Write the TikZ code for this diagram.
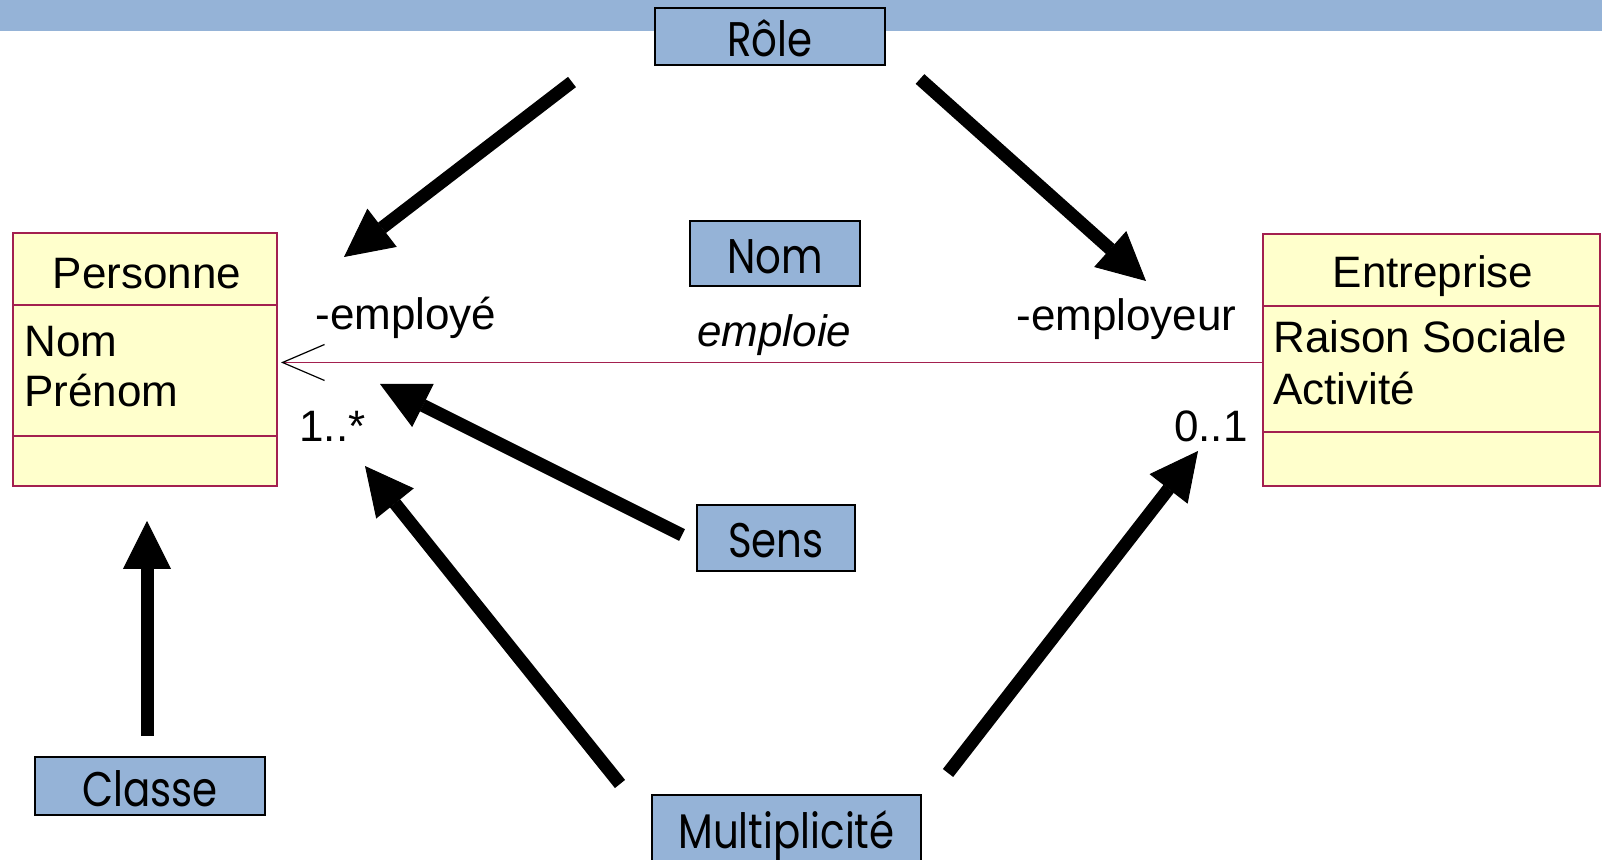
\documentclass[tikz,border=0pt]{standalone}
\usepackage{fontspec}
\setmainfont{Liberation Sans}
\newfontfamily\tagfont[FakeStretch=0.83]{Poppins}
\usetikzlibrary{arrows.meta}
\definecolor{barblue}{HTML}{95B3D7}
\definecolor{classfill}{HTML}{FFFFCC}
\definecolor{classline}{HTML}{A3204F}
\begin{document}
\begin{tikzpicture}[x=0.5pt,y=-0.5pt,
  tagbox/.style={draw=black, line width=1pt, fill=barblue, inner sep=0pt,
    text height=20pt, text depth=0pt,
    font=\tagfont\fontsize{24.3}{28}\selectfont},
  classbox/.style={draw=classline, line width=1pt, fill=classfill, inner sep=0pt},
  sepline/.style={draw=classline, line width=1pt},
  uml/.style={font=\fontsize{22}{26}\selectfont, inner sep=0pt},
  bigarrow/.style={line width=6.5pt,
    -{Triangle[length=24pt,width=24pt,line width=0.5pt]}},
  assoc/.style={draw=classline, line width=0.75pt,
    -{Straight Barb[length=21pt,width=18pt,color=black,line width=0.6pt]}}]
\useasboundingbox (0,0) rectangle (1602,860);

% title band
\fill[barblue] (0,0) rectangle (1602,31);

% classes
\node[classbox, minimum width=132pt, minimum height=126.5pt] (personne) at (145,359.5) {};
\draw[sepline] (personne.west |- 0,305) -- (personne.east |- 0,305);
\draw[sepline] (personne.west |- 0,436) -- (personne.east |- 0,436);
\node[uml, anchor=base] (personneName) at (147,289) {Personne};
\node[uml, anchor=base west] (personneA1) at (24,357) {Nom};
\node[uml, anchor=base west] (personneA2) at (24,407) {Prénom};

\node[classbox, minimum width=168.5pt, minimum height=126pt] (entreprise) at (1431.5,360) {};
\draw[sepline] (entreprise.west |- 0,306) -- (entreprise.east |- 0,306);
\draw[sepline] (entreprise.west |- 0,432) -- (entreprise.east |- 0,432);
\node[uml, anchor=base] (entrepriseName) at (1433,288) {Entreprise};
\node[uml, anchor=base west] (entrepriseA1) at (1273,353) {Raison Sociale};
\node[uml, anchor=base west] (entrepriseA2) at (1273,405) {Activité};

% association
\coordinate (assocEnd) at (281,362.5);
\draw[assoc] (entreprise.west |- assocEnd) -- (assocEnd);
\node[uml, anchor=base west] (roleL) at (315,330) {-employé};
\node[uml, anchor=base west, font=\fontsize{22}{26}\selectfont\itshape] (assocName) at (697,347) {emploie};
\node[uml, anchor=base west] (roleR) at (1016,331) {-employeur};
\node[uml, anchor=base west] (multL) at (299,442) {1..*};
\node[uml, anchor=base east] (multR) at (1248,442) {0..1};

% annotation tags
\node[tagbox, minimum width=115pt, minimum height=28.5pt] (tRole) at (770,36.5) {Rôle};
\node[tagbox, minimum width=85pt, minimum height=32.5pt] (tNom) at (775,253.5) {Nom};
\node[tagbox, minimum width=79pt, minimum height=33pt] (tSens) at (776,538) {Sens};
\node[tagbox, minimum width=115pt, minimum height=29pt] (tClasse) at (150,786) {Classe};
\node[tagbox, text height=17pt, minimum width=134.5pt, minimum height=36.5pt] (tMult) at (786.5,831.5) {Multiplicité};

% pointers
\coordinate (r1s) at (572,82);   \coordinate (r1e) at (344,257);
\coordinate (r2s) at (920,79);   \coordinate (r2e) at (1146,281);
\coordinate (s1s) at (682,535);  \coordinate (s1e) at (380,384);
\coordinate (m1s) at (620,784);  \coordinate (m1e) at (365,466);
\coordinate (m2s) at (948,773);  \coordinate (m2e) at (1198,451);
\coordinate (c1s) at (147,736);  \coordinate (c1e) at (147,521);
\draw[bigarrow] (r1s) -- (r1e);
\draw[bigarrow] (r2s) -- (r2e);
\draw[bigarrow] (s1s) -- (s1e);
\draw[bigarrow] (m1s) -- (m1e);
\draw[bigarrow] (m2s) -- (m2e);
\draw[bigarrow] (c1s) -- (c1e);
\end{tikzpicture}
\end{document}
